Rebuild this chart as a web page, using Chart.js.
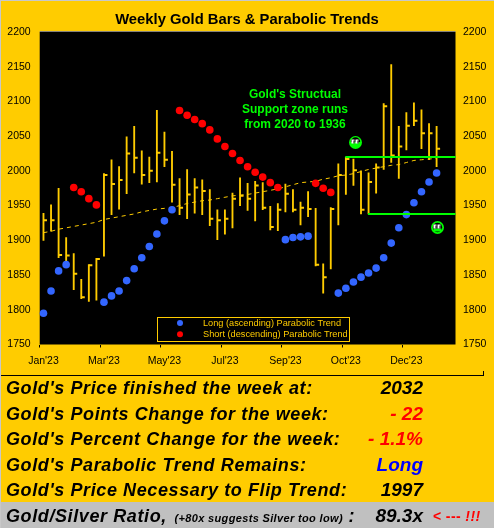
<!DOCTYPE html>
<html>
<head>
<meta charset="utf-8">
<script src="https://cdn.jsdelivr.net/npm/chart.js@4"></script>
<style>
    html, body { margin: 0; padding: 0; background: #ffcc00; }
    #page { position: relative; width: 494px; height: 528px; overflow: hidden; background: #ffcc00; font-family: "Liberation Sans", Arial, sans-serif; }
    #goldChart { position: absolute; left: 0; top: 0; }
    #edge { position: absolute; left: 0; top: 0; width: 494px; height: 528px; box-sizing: border-box; border-top: 1px solid #c8c8c8; border-left: 1px solid #c8c8c8; }
    #rule { position: absolute; left: 1px; top: 371px; width: 483px; height: 5px; box-sizing: border-box; border-right: 1px solid #000; border-bottom: 1px solid #000; }
    .row { position: absolute; left: 6px; height: 26px; line-height: 26px; font-weight: bold; font-style: italic; font-size: 18px; letter-spacing: 0.6px; color: #000; white-space: nowrap; }
    .val { position: absolute; right: 71px; height: 26px; line-height: 26px; font-weight: bold; font-style: italic; font-size: 19px; color: #000; white-space: nowrap; }
    #grayRow { position: absolute; left: 1px; top: 502px; width: 493px; height: 26px; background: #c0c0c0; }
    .small { font-size: 11px; letter-spacing: 0.35px; margin-left: 2px; }
</style>
</head>
<body>
<div id="page">
    <canvas id="goldChart" width="494" height="375"></canvas>
    <div id="rule"></div>
    <div id="grayRow"></div>
    <div class="row" style="top:375px">Gold's Price finished the week at:</div>
    <div class="val" style="top:375px">2032</div>
    <div class="row" style="top:401px">Gold's Points Change for the week:</div>
    <div class="val" style="top:401px;color:#ff0000">- 22</div>
    <div class="row" style="top:426px">Gold's Percent Change for the week:</div>
    <div class="val" style="top:426px;color:#ff0000">- 1.1%</div>
    <div class="row" style="top:452px">Gold's Parabolic Trend Remains:</div>
    <div class="val" style="top:452px;color:#0000ff">Long</div>
    <div class="row" style="top:477px">Gold's Price Necessary to Flip Trend:</div>
    <div class="val" style="top:477px">1997</div>
    <div class="row" style="top:503px">Gold/Silver Ratio, <span class="small">(+80x suggests Silver too low)</span> :</div>
    <div class="val" style="top:503px">89.3x</div>
    <div class="val" style="top:503px;right:auto;left:433px;font-size:14px;letter-spacing:0.4px;color:#ff0000;font-style:normal">&lt; --- <i>!!!</i></div>
    <div id="edge"></div>
</div>
<script>
const tickIndexes = [0, 8, 16, 24, 32, 40, 48];
const tickLabels = ["Jan'23", "Mar'23", "May'23", "Jul'23", "Sep'23", "Oct'23", "Dec'23"];
const weekCount = 55; // 53 weeks of bars plus 2 empty slots on the right

const highs = [1939, 1951, 1975, 1904, 1881, 1844, 1865, 1874, 1996, 2016, 2006, 2049, 2064, 2029, 2020, 2087, 2056, 2028, 1989, 2002, 1989, 1987, 1973, 1944, 1944, 1968, 1990, 1982, 1985, 1983, 1949, 1953, 1981, 1973, 1955, 1970, 1946, 1866, 1947, 2010, 2020, 2017, 2000, 1997, 2010, 2097, 2153, 2064, 2084, 2098, 2088, 2068, 2064];
const lows = [1900, 1913, 1875, 1867, 1829, 1816, 1812, 1814, 1877, 1937, 1945, 1967, 1997, 1981, 1983, 1984, 2006, 1955, 1937, 1931, 1939, 1937, 1921, 1901, 1909, 1918, 1950, 1943, 1928, 1944, 1915, 1914, 1941, 1941, 1922, 1934, 1863, 1824, 1859, 1922, 1966, 1979, 1938, 1938, 1968, 2002, 2012, 1989, 2030, 2065, 2032, 2016, 2006];
const closes = [1929, 1929, 1879, 1878, 1852, 1818, 1864, 1873, 1994, 1981, 1987, 2025, 2019, 1994, 2000, 2026, 2016, 1980, 1947, 1966, 1976, 1971, 1931, 1929, 1931, 1960, 1964, 1960, 1979, 1947, 1919, 1944, 1967, 1944, 1947, 1945, 1865, 1847, 1945, 1994, 2017, 2001, 1944, 1984, 2005, 2093, 2022, 2035, 2065, 2072, 2054, 2054, 2032];
const longTrend = [1795, 1827, 1856, 1865, null, null, null, null, 1811, 1820, 1827, 1842, 1859, 1875, 1891, 1909, 1928, 1944, null, null, null, null, null, null, null, null, null, null, null, null, null, null, 1901, 1904, 1905, 1906, null, null, null, 1824, 1831, 1840, 1847, 1853, 1860, 1875, 1896, 1918, 1937, 1954, 1970, 1984, 1997];
const shortTrend = [null, null, null, null, 1976, 1970, 1960, 1951, null, null, null, null, null, null, null, null, null, null, 2087, 2080, 2074, 2068, 2059, 2046, 2035, 2025, 2015, 2006, 1998, 1991, 1983, 1976, null, null, null, null, 1982, 1975, 1969];
const trendLine = [1911, 1913, 1916, 1918, 1920, 1922, 1924, 1926, 1930, 1932, 1934, 1936, 1938, 1941, 1943, 1945, 1946, 1947, 1950, 1953, 1955, 1957, 1958, 1960, 1962, 1964, 1965, 1966, 1968, 1970, 1972, 1974, 1977, 1980, 1983, 1984, 1985, 1988, 1990, 1993, 1994, 1996, 1999, 2002, 2004, 2006, 2008, 2009, 2012, 2015, 2016, 2017, 2018];

const supportTop = 2020;
const supportTopStart = 40;
const supportBottom = 1938;
const supportBottomStart = 43;
const noteLines = ["Gold's Structual", "Support zone runs", "from 2020 to 1936"];

const gold = "#ffcc00";
const green = "#00ff00";
const fontName = '"Liberation Sans", Arial, sans-serif';

let weekLabels = [];
for (let i = 0; i < weekCount; i++) {
    let at = tickIndexes.indexOf(i);
    weekLabels.push(at >= 0 ? tickLabels[at] : "");
}

function drawSmiley(ctx, x, y, happy) {
    ctx.save();
    ctx.fillStyle = green;
    ctx.beginPath();
    ctx.arc(x, y, 6.5, 0, Math.PI * 2);
    ctx.fill();
    ctx.fillStyle = "#000";
    ctx.beginPath();
    if (happy) {
        ctx.arc(x, y - 0.5, 4.7, Math.PI, 0);
    } else {
        ctx.arc(x, y, 4.7, 0, Math.PI * 2);
    }
    ctx.fill();
    if (!happy) {
        ctx.fillStyle = green;
        ctx.fillRect(x - 4, y + 1, 8, 3);
    }
    ctx.fillStyle = "#fff";
    ctx.fillRect(x - 4, y - 3, 3, 4);
    ctx.fillRect(x + 0, y - 3, 3, 4);
    ctx.fillStyle = "#000";
    ctx.fillRect(x - 2, y - 2, 1, 3);
    ctx.fillRect(x + 2, y - 2, 1, 3);
    ctx.restore();
}

const plotDecor = {
    id: "plotDecor",
    beforeDraw(chart) {
        const { ctx, chartArea } = chart;
        ctx.save();
        ctx.fillStyle = "#000";
        ctx.fillRect(chartArea.left, chartArea.top, chartArea.right - chartArea.left, chartArea.bottom - chartArea.top);
        ctx.fillStyle = "#808080";
        ctx.fillRect(chartArea.left, chartArea.top - 1, chartArea.right - chartArea.left, 1);
        ctx.restore();
    },
    afterDatasetsDraw(chart) {
        const { ctx, chartArea, scales } = chart;
        ctx.save();

        // support zone lines
        ctx.strokeStyle = green;
        ctx.lineWidth = 2;
        ctx.beginPath();
        ctx.moveTo(scales.x.getPixelForValue(supportTopStart) - 0.5, scales.y.getPixelForValue(supportTop));
        ctx.lineTo(chartArea.right, scales.y.getPixelForValue(supportTop));
        ctx.moveTo(scales.x.getPixelForValue(supportBottomStart) - 0.5, scales.y.getPixelForValue(supportBottom));
        ctx.lineTo(chartArea.right, scales.y.getPixelForValue(supportBottom));
        ctx.stroke();

        // green note
        ctx.fillStyle = green;
        ctx.font = "bold 12px " + fontName;
        ctx.textAlign = "center";
        ctx.textBaseline = "middle";
        noteLines.forEach((line, i) => ctx.fillText(line, 295, 95 + i * 15));

        drawSmiley(ctx, 355.5, 142.5, true);
        drawSmiley(ctx, 437.5, 227.5, false);

        // legend box
        ctx.strokeStyle = gold;
        ctx.lineWidth = 1;
        ctx.fillStyle = "#000";
        ctx.fillRect(157.5, 317.5, 192, 24);
        ctx.strokeRect(157.5, 317.5, 192, 24);
        ctx.font = "9.2px " + fontName;
        ctx.textAlign = "left";
        [0, 1].forEach((n) => {
            const set = chart.data.datasets[n];
            ctx.fillStyle = set.backgroundColor;
            ctx.beginPath();
            ctx.arc(180, 323 + n * 11.2, 3, 0, Math.PI * 2);
            ctx.fill();
            ctx.fillStyle = gold;
            ctx.fillText(set.label, 203, 323 + n * 11.2);
        });
        ctx.restore();
    }
};

const ctx = document.getElementById("goldChart").getContext("2d");

const myChart = new Chart(ctx, {
    type: "bar",
    data: {
        labels: weekLabels,
        datasets: [
            {
                type: "line",
                label: "Long (ascending) Parabolic Trend",
                data: longTrend,
                showLine: false,
                backgroundColor: "#3366ff",
                borderColor: "#3366ff",
                pointRadius: 3.8,
                pointBorderWidth: 0,
                order: 1,
            },
            {
                type: "line",
                label: "Short (descending) Parabolic Trend",
                data: shortTrend,
                showLine: false,
                backgroundColor: "#ff0000",
                borderColor: "#ff0000",
                pointRadius: 3.8,
                pointBorderWidth: 0,
                order: 1,
            },
            {
                type: "line",
                label: "Trend",
                data: trendLine,
                borderColor: gold,
                borderWidth: 1,
                borderDash: [4, 4],
                pointRadius: 0,
                tension: 0,
                order: 2,
            },
            {
                type: "line",
                label: "Close",
                data: closes,
                showLine: false,
                pointStyle: "dash", // dash goes from the point to the right
                pointRadius: 3.5,
                pointBorderWidth: 2,
                borderColor: gold,
                backgroundColor: gold,
                order: 3,
            },
            {
                label: "High-Low",
                data: highs.map((h, i) => [lows[i], h]),
                backgroundColor: gold,
                borderWidth: 0,
                barThickness: 1.2,
                order: 4,
            },
        ],
    },
    options: {
        responsive: false,
        animation: false,
        devicePixelRatio: 1,
        layout: { padding: 0 },
        plugins: {
            legend: { display: false },
            tooltip: { enabled: false },
            title: {
                display: true,
                text: "Weekly Gold Bars & Parabolic Trends",
                color: "#000",
                font: { family: fontName, size: 14.8, weight: "bold", lineHeight: 1.2 },
                padding: { top: 11.1, bottom: 3.1 },
            },
        },
        scales: {
            x: {
                offset: true,
                grid: {
                    drawOnChartArea: false,
                    tickLength: 3,
                    tickColor: (c) => (tickIndexes.includes(c.index) ? "#000" : "rgba(0,0,0,0)"),
                },
                border: { display: false },
                ticks: {
                    autoSkip: false,
                    maxRotation: 0,
                    color: "#000",
                    padding: 7,
                    font: { family: fontName, size: 10.5 },
                },
                afterFit: (s) => { s.height = 30.5; },
            },
            y: {
                min: 1750,
                max: 2200,
                position: "left",
                grid: { display: false, drawTicks: false },
                border: { display: false },
                ticks: { stepSize: 50, color: "#000", padding: 9, font: { family: fontName, size: 10.5 }, callback: (v) => String(v) },
                afterFit: (s) => { s.width = 39.7; },
            },
            y2: {
                min: 1750,
                max: 2200,
                position: "right",
                grid: { display: false, drawTicks: false },
                border: { display: false },
                ticks: { stepSize: 50, color: "#000", padding: 7.5, font: { family: fontName, size: 10.5 }, callback: (v) => String(v) },
                afterFit: (s) => { s.width = 38.5; },
            },
        },
    },
    plugins: [plotDecor],
});
</script>
</body>
</html>
